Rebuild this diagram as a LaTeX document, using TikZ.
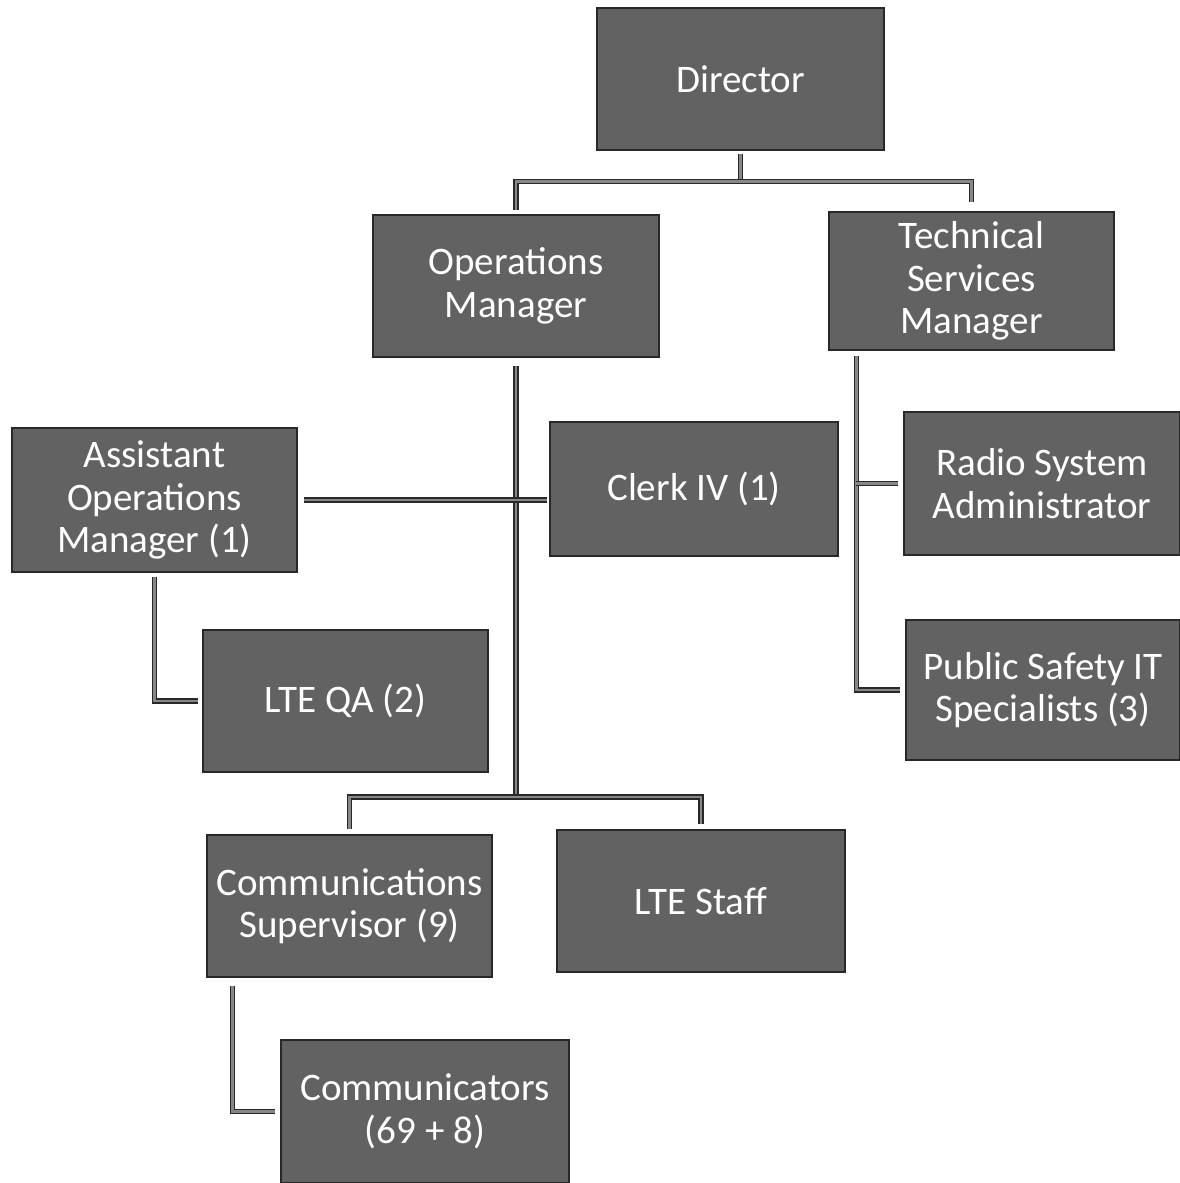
\documentclass[tikz,border=0pt]{standalone}
\usepackage{fontspec}
\setmainfont{Carlito}
\definecolor{boxgray}{RGB}{98,98,98}
\definecolor{boxedge}{RGB}{40,40,40}
\definecolor{linedark}{RGB}{40,40,40}
\definecolor{linemid}{RGB}{135,135,135}
\tikzset{
  orgbox/.style={rectangle, fill=boxgray, draw=boxedge, line width=1.2pt, text=white,
    align=center, inner sep=0pt, font=\fontsize{39}{42.5}\selectfont},
  link/.style={draw=linedark, line width=1.4pt, double=linemid, double distance=2.4pt, line join=miter},
}
\begin{document}
\begin{tikzpicture}[x=1pt,y=-1pt]
\useasboundingbox (0,0) rectangle (1180,1183);
\fill[white] (0,0) rectangle (1180,1183);
% boxes
\node[orgbox, minimum width=287, minimum height=142] (dir) at (740.5,79) {Director};
\node[orgbox, minimum width=286, minimum height=142] (ops) at (516,286) {Operations\\Manager};
\node[orgbox, minimum width=285, minimum height=138] (tech) at (971.5,281) {Technical\\Services\\Manager};
\node[orgbox, minimum width=285, minimum height=144] (asst) at (154.5,500) {Assistant\\Operations\\Manager (1)};
\node[orgbox, minimum width=288, minimum height=134] (clerk) at (694,489) {Clerk IV (1)};
\node[orgbox, minimum width=285, minimum height=142] (qa) at (345.5,701) {LTE QA (2)};
\node[orgbox, minimum width=276, minimum height=143] (radio) at (1042,483.5) {Radio System\\Administrator};
\node[orgbox, minimum width=274, minimum height=140] (psit) at (1043,690) {Public Safety IT\\Specialists (3)};
\node[orgbox, minimum width=285, minimum height=142] (cs) at (349.5,906) {Communications\\Supervisor (9)};
\node[orgbox, minimum width=288, minimum height=142] (lte) at (701,901) {LTE Staff};
\node[orgbox, minimum width=288, minimum height=143] (comm) at (425,1111.5) {Communicators\\(69 + 8)};
% connectors
\coordinate (dbus) at ([yshift=-31pt]dir.south);
\coordinate (obus) at (516,797);
\coordinate (tx) at ([xshift=28pt,yshift=-5pt]tech.south west);
\draw[link, shorten <=3pt] (dir.south) -- (dbus);
\draw[link] ([yshift=4pt]ops.north) |- (dbus) -| ([yshift=9pt]tech.north);
\draw[link, shorten <=8pt] (ops.south) -- (obus);
\draw[link] ([yshift=5pt]cs.north) |- (obus) -| ([yshift=5pt]lte.north);
\draw[link, shorten <=6pt, shorten >=2pt] (asst.east) -- (asst.east -| clerk.west);
\draw[link, shorten <=4pt, shorten >=4pt] (asst.south) |- (qa.west);
\draw[link] (tx) |- ([xshift=-5pt]psit.west);
\draw[link] ([xshift=-5pt]radio.west) -- (radio.west -| tx);
\draw[link] ([xshift=26pt,yshift=-8pt]cs.south west) |- ([xshift=-5pt]comm.west);
\end{tikzpicture}
\end{document}
